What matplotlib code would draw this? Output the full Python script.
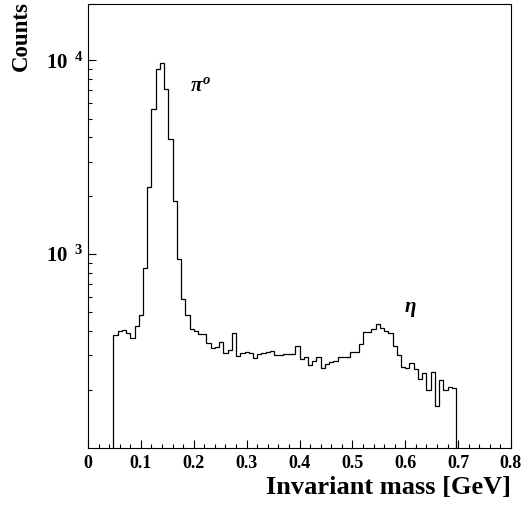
import numpy as np
import matplotlib
matplotlib.use("Agg")
import matplotlib.pyplot as plt
from matplotlib.ticker import FixedLocator, NullFormatter, MultipleLocator

# histogram of the two-photon invariant mass, 0.008 GeV bins
bin_width = 0.008
first_edge = 0.048
counts = [382, 401, 408, 392, 369, 425, 485, 852, 2223, 5637,
          9063, 9730, 7087, 3902, 1869, 939, 584, 488, 413, 401,
          387, 387, 348, 328, 330, 352, 310, 320, 390, 298,
          309, 314, 308, 290, 307, 308, 314, 318, 300, 301,
          306, 304, 304, 337, 288, 293, 268, 281, 296, 259,
          270, 278, 281, 293, 294, 296, 314, 311, 344, 395,
          398, 409, 436, 416, 399, 393, 336, 303, 262, 260,
          274, 256, 227, 244, 200, 247, 165, 225, 200, 206,
          203]
edges = first_edge + bin_width * np.arange(len(counts) + 1)

x_ticks = [0, 0.1, 0.2, 0.3, 0.4, 0.5, 0.6, 0.7, 0.8]
x_tick_labels = ["0", "0.1", "0.2", "0.3", "0.4", "0.5", "0.6", "0.7", "0.8"]
y_ticks = [1e3, 1e4]
y_tick_labels = [r"$\mathbf{10^{\ \ 3}}$", r"$\mathbf{10^{\ \ 4}}$"]

plt.rcParams["font.family"] = ["Liberation Serif", "DejaVu Serif"]
plt.rcParams["font.weight"] = "bold"
plt.rcParams["mathtext.fontset"] = "custom"
plt.rcParams["mathtext.rm"] = "Liberation Serif:bold"
plt.rcParams["mathtext.bf"] = "Liberation Serif:bold"
plt.rcParams["mathtext.it"] = "Liberation Serif:bold:italic"

fig = plt.figure(figsize=(5.25, 5.05), dpi=100)
ax = fig.add_axes([88 / 525, 57 / 505, 423 / 525, 444 / 505])

ax.stairs(counts, edges, baseline=1, color="black", linewidth=0.9)

ax.set_yscale("log")
ax.set_xlim(0, 0.8)
ax.set_ylim(100, 1.95e4)

ax.set_xticks(x_ticks)
ax.set_xticklabels(x_tick_labels)
ax.xaxis.set_minor_locator(MultipleLocator(0.02))
ax.set_yticks(y_ticks)
ax.set_yticklabels(y_tick_labels, fontsize=15)
minor_y = [m * d for d in (100, 1000) for m in range(2, 10)]
ax.yaxis.set_minor_locator(FixedLocator(minor_y))
ax.yaxis.set_minor_formatter(NullFormatter())

ax.tick_params(which="both", direction="in", top=False, right=False, width=0.8)
ax.tick_params(axis="x", labelsize=13, pad=5)
ax.tick_params(axis="y", pad=3)
ax.tick_params(which="major", length=6)
ax.tick_params(which="minor", length=3)
for spine in ax.spines.values():
    spine.set_linewidth(0.8)

ax.text(0.212, 7400, r"$\mathit{\pi^{o}}$", fontsize=15, ha="center", va="center")
ax.text(0.61, 520, r"$\mathit{\eta}$", fontsize=15, ha="center", va="center")

fig.text(0.04, 0.998, "Counts", rotation=90, ha="center", va="top",
         fontsize=16.5, fontweight="bold")
fig.text(511 / 525, 11 / 505, "Invariant mass [GeV]", ha="right", va="baseline",
         fontsize=19, fontweight="bold")

fig.savefig("out.png", dpi=100)
